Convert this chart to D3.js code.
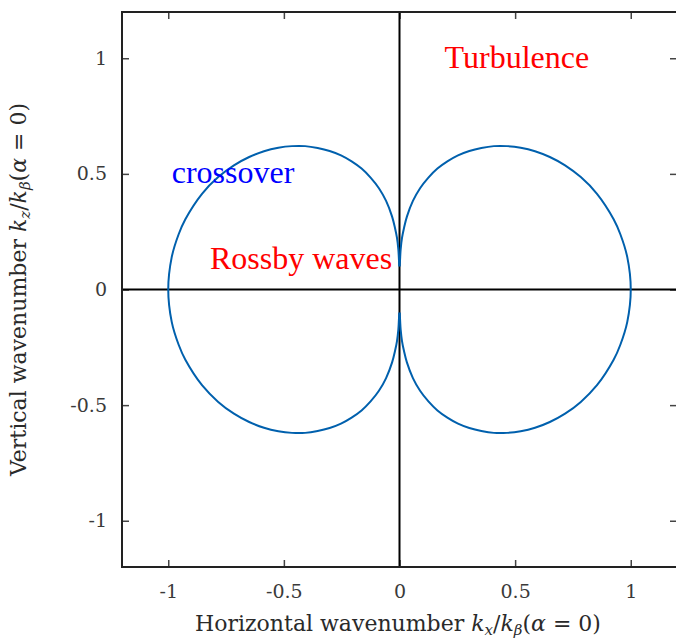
<!DOCTYPE html>
<html>
<head>
<meta charset="utf-8">
<script src="https://cdn.jsdelivr.net/npm/d3@7"></script>
<style>
  body { margin: 0; background: #fff; }
  svg { display: block; }
</style>
</head>
<body>
<div id="chart"></div>
<script>
// Tick values (both axes)
const xTicks = [-1, -0.5, 0, 0.5, 1];
const yTicks = [-1, -0.5, 0, 0.5, 1];

// Crossover curve, upper right quarter (kx, kz)
const quarterX = [0.001, 0.003, 0.005, 0.011, 0.019, 0.032, 0.058, 0.089, 0.125, 0.164, 0.207, 0.253,
                  0.302, 0.354, 0.408, 0.465, 0.524, 0.586, 0.650, 0.716, 0.784, 0.854, 0.926, 0.955, 0.985, 1.0];
const quarterZ = [0.100, 0.141, 0.173, 0.224, 0.264, 0.315, 0.383, 0.438, 0.484, 0.523, 0.554, 0.580,
                  0.599, 0.612, 0.620, 0.620, 0.613, 0.598, 0.573, 0.537, 0.486, 0.414, 0.304, 0.239, 0.140, 0.0];

// Labels inside the plot
const labels = [
  { text: "Turbulence", x: 0.195, y: 0.958, color: "#ff0000" },
  { text: "crossover", x: -0.985, y: 0.46, color: "#0000ff" },
  { text: "Rossby waves", x: -0.82, y: 0.089, color: "#ff0000" }
];

const W = 676, H = 639;
const margin = { top: 12, right: -1, bottom: 72, left: 122 };

const svg = d3.select("#chart").append("svg")
    .attr("width", W)
    .attr("height", H);

const x = d3.scaleLinear().domain([-1.2, 1.2]).range([margin.left, W - margin.right]);
const y = d3.scaleLinear().domain([-1.2, 1.2]).range([H - margin.bottom, margin.top]);

const serif = "'Liberation Serif', serif";
const texSerif = "'DejaVu Serif', serif";

// axes with inward ticks
function styleAxis(g, labelled) {
  g.select(".domain").remove();
  g.attr("font-family", texSerif).attr("font-size", 19);
  g.selectAll(".tick line").attr("stroke", "#444").attr("stroke-width", 1.5);
  g.selectAll(".tick text").attr("fill", "#3a3a3a");
  if (!labelled) g.selectAll(".tick text").remove();
}

svg.append("g")
    .attr("transform", `translate(0,${y.range()[0]})`)
    .call(d3.axisBottom(x).tickValues(xTicks).tickSize(-7).tickPadding(18).tickFormat(d => String(d)))
    .call(g => styleAxis(g, true));

svg.append("g")
    .attr("transform", `translate(0,${y.range()[1]})`)
    .call(d3.axisTop(x).tickValues(xTicks).tickSize(-7))
    .call(g => styleAxis(g, false));

svg.append("g")
    .attr("transform", `translate(${x.range()[0]},0)`)
    .call(d3.axisLeft(y).tickValues(yTicks).tickSize(-7).tickPadding(15).tickFormat(d => String(d)))
    .call(g => styleAxis(g, true));

svg.append("g")
    .attr("transform", `translate(${x.range()[1]},0)`)
    .call(d3.axisRight(y).tickValues(yTicks).tickSize(-7))
    .call(g => styleAxis(g, false));

// zero lines
svg.append("line")
    .attr("x1", x(0)).attr("x2", x(0))
    .attr("y1", y(-1.2)).attr("y2", y(1.2))
    .attr("stroke", "#000").attr("stroke-width", 2);
svg.append("line")
    .attr("x1", x(-1.2)).attr("x2", x(1.2))
    .attr("y1", y(0)).attr("y2", y(0))
    .attr("stroke", "#000").attr("stroke-width", 2);

// border
svg.append("rect")
    .attr("x", x(-1.2)).attr("y", y(1.2))
    .attr("width", x(1.2) - x(-1.2))
    .attr("height", y(-1.2) - y(1.2))
    .attr("fill", "none")
    .attr("stroke", "#222")
    .attr("stroke-width", 2);

// lobes
const upper = quarterX.map((v, i) => [v, quarterZ[i]]);
const rightLobe = upper.concat(upper.slice(0, -1).reverse().map(d => [d[0], -d[1]]));
const leftLobe = rightLobe.map(d => [-d[0], d[1]]);

const line = d3.line()
    .x(d => x(d[0]))
    .y(d => y(d[1]))
    .curve(d3.curveCatmullRom.alpha(0.5));

[rightLobe, leftLobe].forEach(lobe => {
  svg.append("path")
      .datum(lobe)
      .attr("d", line)
      .attr("fill", "none")
      .attr("stroke", "#0060ad")
      .attr("stroke-width", 2);
});

// text labels
svg.selectAll(".lbl")
  .data(labels)
  .join("text")
    .attr("class", "lbl")
    .attr("x", d => x(d.x))
    .attr("y", d => y(d.y))
    .attr("fill", d => d.color)
    .attr("font-family", serif)
    .attr("font-size", 32)
    .text(d => d.text);

// axis titles with math
function mathLabel(t, sub) {
  t.append("tspan").text(t.datum().pre);
  t.append("tspan").attr("font-style", "italic").text("k");
  t.append("tspan").attr("font-style", "italic").attr("font-size", 15).attr("dy", 4).text(sub);
  t.append("tspan").attr("dy", -4).text("/");
  t.append("tspan").attr("font-style", "italic").text("k");
  t.append("tspan").attr("font-style", "italic").attr("font-size", 15).attr("dy", 4).text("β");
  t.append("tspan").attr("dy", -4).text("(");
  t.append("tspan").attr("font-style", "italic").text("α");
  t.append("tspan").text(" = 0)");
}

svg.append("text")
    .datum({ pre: "Horizontal wavenumber " })
    .attr("x", 398)
    .attr("y", 631)
    .attr("text-anchor", "middle")
    .attr("fill", "#2a2a2a")
    .attr("font-family", texSerif)
    .attr("font-size", 22)
    .call(t => mathLabel(t, "x"));

svg.append("text")
    .datum({ pre: "Vertical wavenumber " })
    .attr("transform", `translate(26,${y(0)}) rotate(-90)`)
    .attr("text-anchor", "middle")
    .attr("fill", "#2a2a2a")
    .attr("font-family", texSerif)
    .attr("font-size", 22)
    .call(t => mathLabel(t, "z"));
</script>
</body>
</html>
